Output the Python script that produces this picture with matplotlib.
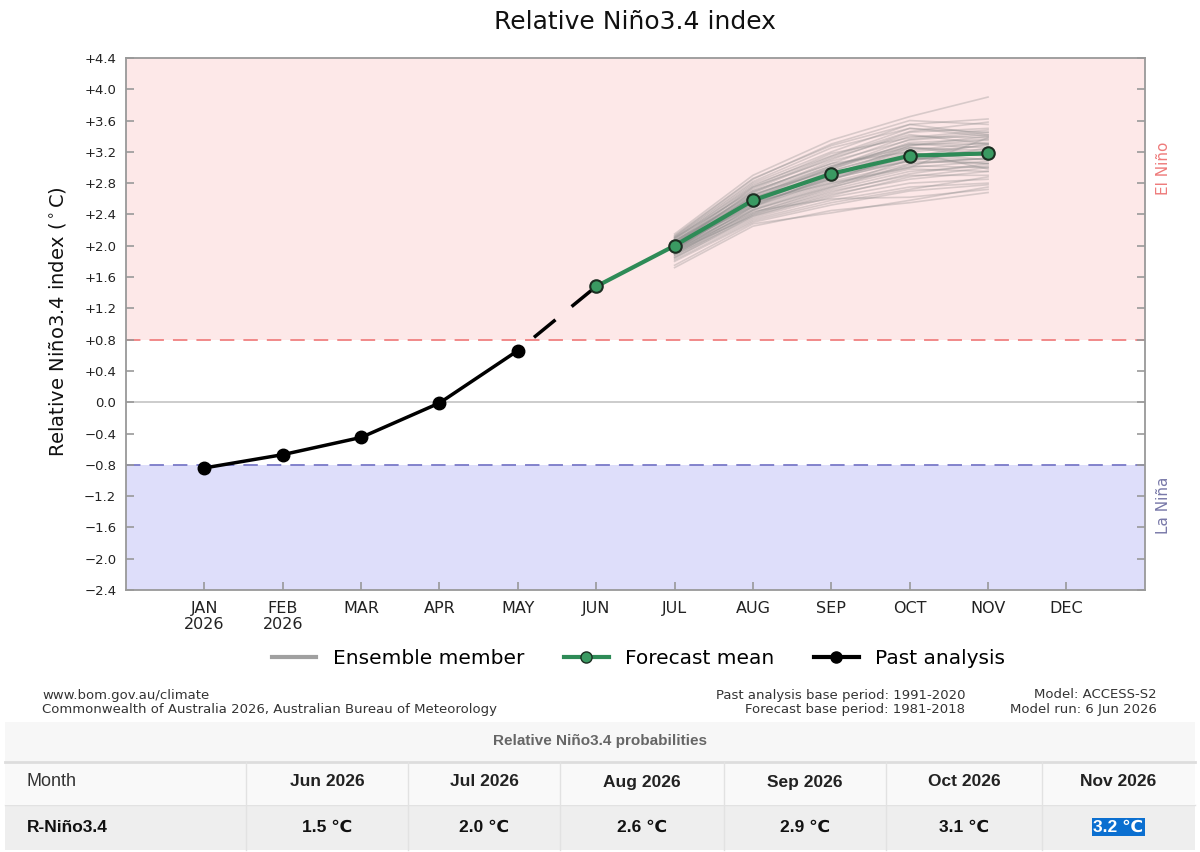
import numpy as np
import matplotlib
matplotlib.use("Agg")
import matplotlib.pyplot as plt
from matplotlib.patches import Rectangle
from matplotlib.lines import Line2D

# month axis
months = ["JAN\n2026", "FEB\n2026", "MAR", "APR", "MAY", "JUN",
          "JUL", "AUG", "SEP", "OCT", "NOV", "DEC"]

# past analysis JAN..MAY
past_x = [0, 1, 2, 3, 4]
past_vals = [-0.84, -0.67, -0.45, -0.01, 0.66]

# forecast mean JUN..NOV
fc_x = [5, 6, 7, 8, 9, 10]
fc_vals = [1.48, 2.00, 2.58, 2.92, 3.15, 3.18]

# ensemble members JUL..NOV
ens_x = [6, 7, 8, 9, 10]
ensemble = [
    [2.15, 2.90, 3.35, 3.65, 3.90],
    [2.12, 2.85, 3.30, 3.60, 3.55],
    [2.10, 2.80, 3.20, 3.55, 3.62],
    [2.08, 2.78, 3.15, 3.50, 3.45],
    [2.05, 2.75, 3.10, 3.45, 3.50],
    [2.10, 2.70, 3.05, 3.40, 3.38],
    [2.02, 2.68, 3.08, 3.35, 3.42],
    [2.06, 2.65, 3.00, 3.30, 3.30],
    [2.00, 2.62, 2.98, 3.28, 3.35],
    [2.04, 2.60, 2.95, 3.25, 3.22],
    [1.98, 2.60, 2.92, 3.20, 3.28],
    [2.01, 2.58, 2.90, 3.18, 3.15],
    [1.96, 2.55, 2.92, 3.15, 3.20],
    [2.03, 2.56, 2.88, 3.12, 3.10],
    [1.99, 2.54, 2.85, 3.10, 3.18],
    [1.95, 2.52, 2.86, 3.08, 3.05],
    [2.00, 2.50, 2.82, 3.05, 3.12],
    [1.94, 2.48, 2.80, 3.02, 3.00],
    [1.97, 2.46, 2.78, 3.00, 3.08],
    [1.92, 2.45, 2.75, 2.98, 2.95],
    [1.95, 2.42, 2.72, 2.95, 3.02],
    [1.90, 2.40, 2.70, 2.90, 2.90],
    [1.93, 2.38, 2.66, 2.85, 2.95],
    [1.88, 2.36, 2.62, 2.80, 2.85],
    [1.85, 2.34, 2.58, 2.75, 2.80],
    [1.80, 2.30, 2.52, 2.70, 2.78],
    [1.72, 2.25, 2.45, 2.55, 2.68],
    [1.90, 2.44, 2.60, 2.62, 2.72],
    [2.07, 2.72, 3.12, 3.42, 3.30],
    [2.11, 2.82, 3.25, 3.50, 3.40],
    [1.96, 2.64, 3.02, 3.30, 3.25],
    [2.03, 2.66, 2.96, 3.22, 3.32],
    [1.98, 2.52, 2.88, 3.25, 3.15],
    [1.94, 2.58, 2.94, 3.12, 3.05],
    [2.06, 2.62, 2.90, 3.08, 3.25],
    [1.91, 2.50, 2.84, 3.18, 3.10],
    [2.00, 2.70, 3.05, 3.20, 2.98],
    [1.89, 2.46, 2.76, 3.10, 3.20],
    [2.09, 2.76, 3.18, 3.38, 3.48],
    [1.97, 2.56, 2.80, 3.00, 3.38],
    [1.75, 2.28, 2.42, 2.58, 2.75],
    [1.82, 2.32, 2.55, 2.72, 2.88],
    [1.86, 2.40, 2.68, 2.92, 3.05],
    [2.13, 2.86, 3.28, 3.55, 3.42],
    [2.02, 2.74, 3.14, 3.46, 3.58],
    [1.99, 2.60, 3.00, 3.36, 3.45],
    [1.93, 2.50, 2.90, 3.28, 3.40],
    [2.05, 2.68, 3.02, 3.26, 3.18],
    [1.88, 2.42, 2.74, 3.04, 3.12],
    [1.96, 2.54, 2.86, 3.14, 3.30],
    [2.01, 2.64, 2.98, 3.32, 3.36],
    [1.84, 2.38, 2.64, 2.88, 3.00],
]

# table below the chart
table_months = ["Jun 2026", "Jul 2026", "Aug 2026", "Sep 2026", "Oct 2026", "Nov 2026"]
table_values = [1.5, 2.0, 2.6, 2.9, 3.1, 3.2]

threshold = 0.8
ymin, ymax = -2.4, 4.4

fig = plt.figure(figsize=(12, 8.52), dpi=100)
ax = fig.add_axes([0.105, 0.3075, 0.849, 0.6245])

ax.axhspan(threshold, ymax, color="#fde8e8", zorder=0, lw=0)
ax.axhspan(ymin, -threshold, color="#dedefa", zorder=0, lw=0)
ax.axhline(threshold, color="#f08080", lw=1.3, ls=(0, (8, 5)), zorder=1)
ax.axhline(-threshold, color="#7a7ac8", lw=1.3, ls=(0, (8, 5)), zorder=1)
ax.axhline(0, color="#c8c8c8", lw=1.3, zorder=1)

for member in ensemble:
    ax.plot(ens_x, member, color="#8a8a8a", alpha=0.32, lw=1.2, zorder=2)

ax.plot([past_x[-1], fc_x[0]], [past_vals[-1], fc_vals[0]], color="black",
        lw=2.5, ls=(8, (8, 6)), zorder=3)
ax.plot(past_x, past_vals, color="black", lw=2.5, marker="o", ms=9, zorder=4)
ax.plot(fc_x, fc_vals, color="#2e8b57", lw=3, marker="o", ms=9,
        mfc="#3a9a62", mec="#1c2e22", mew=1.5, zorder=5)

ax.set_xlim(-1, 12)
ax.set_ylim(ymin, ymax)
ax.set_xticks(range(12))
ax.set_xticklabels(months, fontsize=11.5, color="#222222", linespacing=1.1)
yt = np.round(np.arange(ymin, ymax + 0.01, 0.4), 1)
ax.set_yticks(yt)
ax.set_yticklabels(["0.0" if v == 0 else (f"+{v:.1f}" if v > 0 else f"\u2212{abs(v):.1f}") for v in yt],
                   fontsize=9.5, color="#222222")
ax.tick_params(axis="both", direction="in", length=6, color="#999999", width=1.2)
ax.tick_params(axis="y", right=True, pad=7)
ax.tick_params(axis="x", pad=8)
for s in ax.spines.values():
    s.set_color("#999999")
    s.set_linewidth(1.3)

fig.text(0.529, 1 - 22 / 852, "Relative Niño3.4 index", fontsize=18, ha="center", va="center", color="#111111")
fig.text(57 / 1200, 1 - 322 / 852, "Relative Niño3.4 index ($^\\circ$C)", fontsize=14, rotation=90,
         ha="center", va="center", color="#111111")
fig.text(1163 / 1200, 1 - 168 / 852, "El Niño", fontsize=11, rotation=90, ha="center", va="center", color="#ee7b7b")
fig.text(1163 / 1200, 1 - 505 / 852, "La Niña", fontsize=11, rotation=90, ha="center", va="center", color="#7878a8")

handles = [
    Line2D([], [], color="#a0a0a0", lw=3),
    Line2D([], [], color="#2e8b57", lw=3, marker="o", ms=8, mfc="#3a9a62", mec="#1c2e22"),
    Line2D([], [], color="black", lw=3, marker="o", ms=8),
]
fig.legend(handles, ["Ensemble member", "Forecast mean", "Past analysis"], loc="center",
           bbox_to_anchor=(0.532, 1 - 659 / 852), ncol=3, frameon=False, fontsize=14.5,
           handlelength=2.2, columnspacing=2.0)

foot = dict(fontsize=9.5, color="#333333", va="center")
fig.text(42 / 1200, 1 - 695 / 852, "www.bom.gov.au/climate", ha="left", **foot)
fig.text(42 / 1200, 1 - 710 / 852, "Commonwealth of Australia 2026, Australian Bureau of Meteorology", ha="left", **foot)
fig.text(965 / 1200, 1 - 695 / 852, "Past analysis base period: 1991-2020", ha="right", **foot)
fig.text(965 / 1200, 1 - 710 / 852, "Forecast base period: 1981-2018", ha="right", **foot)
fig.text(1157 / 1200, 1 - 695 / 852, "Model: ACCESS-S2", ha="right", **foot)
fig.text(1157 / 1200, 1 - 710 / 852, "Model run: 6 Jun 2026", ha="right", **foot)

# table drawn in pixel coordinates
tb = fig.add_axes([0, 0, 1, 137 / 852])
tb.set_xlim(0, 1200)
tb.set_ylim(852, 715)
tb.axis("off")
tfont = ["Liberation Sans", "DejaVu Sans"]
tb.add_patch(Rectangle((5, 722), 1190, 39, fc="#f7f7f7", ec="none"))
tb.add_patch(Rectangle((5, 762), 1190, 42, fc="#f9f9f9", ec="none"))
tb.add_patch(Rectangle((5, 805), 1190, 45, fc="#eeeeee", ec="none"))
tb.plot([5, 1195], [761.5, 761.5], color="#dddddd", lw=2)
tb.plot([5, 1195], [804.5, 804.5], color="#e2e2e2", lw=1)
col_edges = [5, 246, 408, 560, 724, 886, 1042, 1195]
for xe in col_edges[1:-1]:
    tb.plot([xe, xe], [762, 850], color="#e2e2e2", lw=1)
tb.text(600, 741, "Relative Niño3.4 probabilities", ha="center", va="center", fontsize=11,
        color="#666666", fontweight="bold", family=tfont)
tb.text(27, 782, "Month", ha="left", va="center", fontsize=13, color="#333333", family=tfont)
tb.text(27, 827, "R-Niño3.4", ha="left", va="center", fontsize=12.5, color="#111111",
        fontweight="bold", family=tfont)
for i, (m, v) in enumerate(zip(table_months, table_values)):
    cx = (col_edges[i + 1] + col_edges[i + 2]) / 2
    tb.text(cx, 782, m, ha="center", va="center", fontsize=12.5, color="#222222",
            fontweight="bold", family=tfont)
    kw = dict(ha="center", va="center", fontsize=12.5, fontweight="bold", family=tfont)
    if i == len(table_values) - 1:
        tb.text(cx, 827, f"{v:.1f} \u2103", color="white",
                bbox=dict(boxstyle="square,pad=0.1", fc="#0b6fd0", ec="none"), **kw)
    else:
        tb.text(cx, 827, f"{v:.1f} \u2103", color="#111111", **kw)

fig.savefig("out.png", dpi=100)
